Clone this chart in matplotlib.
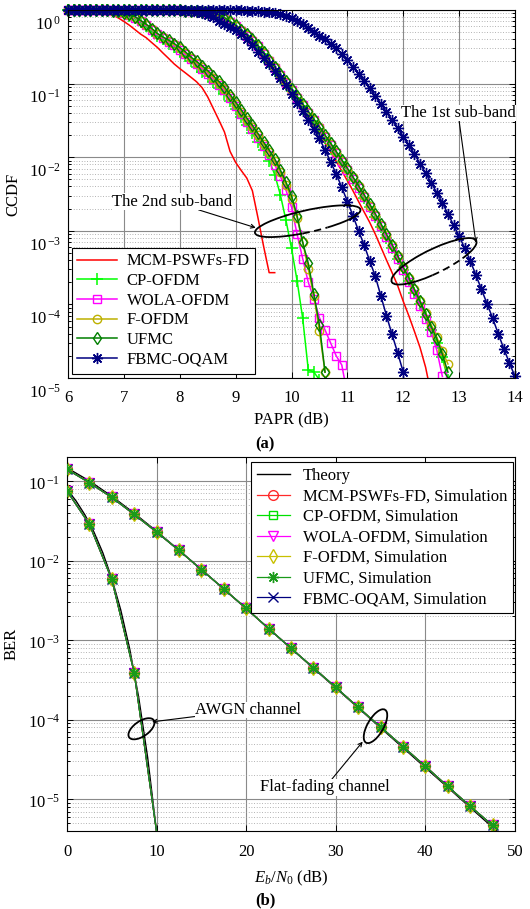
import numpy as np
import matplotlib
matplotlib.use('Agg')
import matplotlib.pyplot as plt
from matplotlib.patches import Arc
from matplotlib.ticker import FuncFormatter, LogLocator
from matplotlib.transforms import ScaledTranslation, Bbox, TransformedBbox

plt.rcParams['font.family'] = ['Liberation Serif', 'DejaVu Serif']
plt.rcParams['mathtext.fontset'] = 'custom'
plt.rcParams['mathtext.rm'] = 'Liberation Serif'
plt.rcParams['mathtext.it'] = 'Liberation Serif:italic'
plt.rcParams['axes.unicode_minus'] = False

# ---------------- (a) PAPR CCDF, sampled every 0.1 dB from 6 dB ----------------
papr_x = np.round(np.arange(6.0, 14.01, 0.1), 1)

# 2nd sub-band
mcm_2nd = [1.0, 0.999, 0.998, 0.996, 0.99, 0.98, 0.96, 0.92, 0.86, 0.78,
           0.7, 0.62, 0.54, 0.47, 0.42, 0.36, 0.31, 0.26, 0.22, 0.185,
           0.16, 0.14, 0.122, 0.106, 0.088, 0.066, 0.046, 0.032, 0.022, 0.012,
           0.0085, 0.0066, 0.0052, 0.0035, 0.0015, 6.2e-4, 2.7e-4, 2.7e-4]
cp_2nd = [1.0, 1.0, 1.0, 1.0, 0.999, 0.997, 0.993, 0.985, 0.97, 0.94,
          0.9, 0.84, 0.77, 0.68, 0.6, 0.52, 0.45, 0.4, 0.35, 0.31,
          0.27, 0.235, 0.2, 0.17, 0.145, 0.125, 0.105, 0.088, 0.073, 0.058,
          0.045, 0.035, 0.027, 0.021, 0.016, 0.0125, 0.009, 0.0058, 0.0031, 0.0014,
          5.8e-4, 2.1e-4, 6.5e-5, 1.3e-5, 1.2e-5, 9.5e-6]
wola_2nd = [1.0, 1.0, 1.0, 1.0, 0.999, 0.998, 0.994, 0.987, 0.973, 0.948,
            0.91, 0.86, 0.79, 0.7, 0.62, 0.54, 0.465, 0.415, 0.37, 0.33,
            0.29, 0.25, 0.215, 0.185, 0.16, 0.137, 0.116, 0.097, 0.081, 0.064,
            0.05, 0.039, 0.03, 0.024, 0.0185, 0.014, 0.0108, 0.0079, 0.0055, 0.0036,
            0.0021, 9e-4, 4.2e-4, 2e-4, 1.2e-4, 6.6e-5, 4.5e-5, 3e-5, 2e-5, 1.5e-5,
            6e-6]
fofdm_2nd = [1.0, 1.0, 1.0, 1.0, 0.999, 0.998, 0.995, 0.989, 0.975, 0.952,
             0.915, 0.865, 0.8, 0.715, 0.635, 0.55, 0.475, 0.425, 0.38, 0.34,
             0.3, 0.26, 0.222, 0.192, 0.168, 0.143, 0.121, 0.101, 0.085, 0.067,
             0.053, 0.041, 0.032, 0.0255, 0.0198, 0.015, 0.0117, 0.0088, 0.0062, 0.0042,
             0.0027, 0.0015, 7e-4, 3e-4, 1.3e-4, 4.3e-5, 1.2e-5]
ufmc_2nd = [1.0, 1.0, 1.0, 1.0, 0.999, 0.998, 0.995, 0.99, 0.977, 0.955,
            0.92, 0.87, 0.81, 0.72, 0.64, 0.56, 0.48, 0.43, 0.39, 0.35,
            0.31, 0.27, 0.23, 0.2, 0.175, 0.15, 0.128, 0.107, 0.09, 0.071,
            0.056, 0.044, 0.034, 0.027, 0.021, 0.016, 0.0125, 0.0095, 0.0067, 0.0046,
            0.003, 0.0016, 7e-4, 3.6e-4, 1.4e-4, 5.2e-5, 1.2e-5]
fbmc_2nd = [1.0] * 16 + [
            0.999, 0.998, 0.996, 0.993, 0.988, 0.98, 0.965, 0.94, 0.9, 0.86,
            0.8, 0.72, 0.65, 0.58, 0.53, 0.47, 0.4, 0.33, 0.27, 0.22,
            0.185, 0.15, 0.12, 0.095, 0.072, 0.055, 0.042, 0.032, 0.024, 0.018,
            0.0125, 0.0087, 0.0059, 0.0039, 0.0025, 0.0016, 0.001, 6.4e-4, 3.9e-4, 2.4e-4,
            1.3e-4, 7e-5, 3.9e-5, 2.2e-5, 1.2e-5]

# 1st sub-band
mcm_1st = [1.0] * 14 + [
           0.999, 0.998, 0.997, 0.995, 0.992, 0.988, 0.982, 0.974, 0.963, 0.948,
           0.93, 0.9, 0.855, 0.79, 0.7, 0.62, 0.54, 0.47, 0.4, 0.33,
           0.265, 0.21, 0.17, 0.135, 0.107, 0.085, 0.067, 0.053, 0.042, 0.033,
           0.026, 0.02, 0.0155, 0.0118, 0.0088, 0.0065, 0.0048, 0.0035, 0.0025, 0.0018,
           0.0013, 9e-4, 6e-4, 4e-4, 2.7e-4, 1.8e-4, 1.1e-4, 7e-5, 4.3e-5, 2.6e-5,
           1.4e-5, 6e-6]
cp_1st = [1.0] * 15 + [
          0.999, 0.998, 0.996, 0.994, 0.99, 0.985, 0.978, 0.968, 0.955, 0.935,
          0.91, 0.88, 0.83, 0.75, 0.67, 0.59, 0.51, 0.44, 0.375, 0.31,
          0.25, 0.198, 0.16, 0.127, 0.1, 0.08, 0.063, 0.05, 0.039, 0.031,
          0.024, 0.0185, 0.0143, 0.011, 0.0085, 0.0065, 0.0049, 0.0037, 0.0028, 0.0021,
          0.00155, 0.00112, 8e-4, 5.8e-4, 4.1e-4, 2.9e-4, 2.05e-4, 1.45e-4, 1e-4, 6.8e-5,
          4.5e-5, 3e-5, 1.9e-5, 9.5e-6]
wola_1st = [1.0] * 15 + [
            0.999, 0.998, 0.996, 0.994, 0.99, 0.986, 0.979, 0.97, 0.958, 0.94,
            0.915, 0.89, 0.84, 0.76, 0.68, 0.6, 0.52, 0.45, 0.385, 0.32,
            0.255, 0.203, 0.164, 0.13, 0.103, 0.082, 0.064, 0.051, 0.04, 0.032,
            0.025, 0.019, 0.0147, 0.0113, 0.0087, 0.0067, 0.0051, 0.0038, 0.0029, 0.0021,
            0.0016, 0.00115, 8.2e-4, 5.9e-4, 4.2e-4, 2.9e-4, 2e-4, 1.4e-4, 9.5e-5, 6.3e-5,
            4.2e-5, 2.4e-5, 1.05e-5]
fofdm_1st = [1.0] * 15 + [
             0.999, 0.998, 0.997, 0.995, 0.991, 0.987, 0.981, 0.973, 0.962, 0.946,
             0.925, 0.9, 0.85, 0.78, 0.69, 0.61, 0.53, 0.46, 0.39, 0.325,
             0.26, 0.206, 0.167, 0.132, 0.105, 0.083, 0.066, 0.052, 0.041, 0.032,
             0.0255, 0.0196, 0.0152, 0.0117, 0.009, 0.0069, 0.0053, 0.004, 0.003, 0.0022,
             0.00165, 0.0012, 8.8e-4, 6.4e-4, 4.5e-4, 3.2e-4, 2.3e-4, 1.6e-4, 1.12e-4, 7.7e-5,
             5.3e-5, 3.6e-5, 2.3e-5, 1.55e-5]
ufmc_1st = [1.0] * 15 + [
            0.999, 0.998, 0.997, 0.995, 0.992, 0.988, 0.982, 0.975, 0.965, 0.95,
            0.93, 0.91, 0.86, 0.79, 0.7, 0.62, 0.54, 0.47, 0.4, 0.33,
            0.265, 0.21, 0.17, 0.135, 0.107, 0.085, 0.067, 0.053, 0.042, 0.033,
            0.026, 0.02, 0.0155, 0.012, 0.0092, 0.0071, 0.0054, 0.0041, 0.0031, 0.0023,
            0.0017, 0.00125, 9e-4, 6.5e-4, 4.6e-4, 3.2e-4, 2.3e-4, 1.6e-4, 1.1e-4, 7.5e-5,
            5e-5, 3.4e-5, 2.1e-5, 1.2e-5]
fbmc_1st = [1.0] * 25 + [
            0.999, 0.998, 0.997, 0.995, 0.993, 0.99, 0.986, 0.98, 0.972, 0.96,
            0.945, 0.925, 0.9, 0.87, 0.83, 0.78, 0.72, 0.65, 0.57, 0.5,
            0.45, 0.4, 0.35, 0.3, 0.25, 0.21, 0.17, 0.135, 0.11, 0.087,
            0.068, 0.053, 0.041, 0.032, 0.025, 0.019, 0.0145, 0.011, 0.0082, 0.0061,
            0.0045, 0.0033, 0.0024, 0.0017, 0.0012, 8.5e-4, 5.8e-4, 3.9e-4, 2.5e-4, 1.6e-4,
            1.02e-4, 6.5e-5, 4e-5, 2.5e-5, 1.6e-5, 1.05e-5]

# ---------------- (b) BER ----------------
ebn0_awgn_theory = [0, 1, 2, 3, 4, 5, 6, 7, 8, 9, 10]
ber_awgn_theory = [0.0786, 0.0563, 0.0375, 0.0229, 0.0125, 0.00595, 0.00239,
                   7.73e-4, 1.91e-4, 3.36e-5, 3.87e-6]
ebn0_fade_theory = [0, 2.5, 5, 7.5, 10, 12.5, 15, 17.5, 20, 22.5, 25, 27.5, 30,
                    32.5, 35, 37.5, 40, 42.5, 45, 47.5, 50]
ber_fade_theory = [0.146, 0.1, 0.0642, 0.0393, 0.0233, 0.0135, 0.00772, 0.00438,
                   0.00248, 0.0014, 7.89e-4, 4.44e-4, 2.5e-4, 1.41e-4, 7.9e-5,
                   4.45e-5, 2.5e-5, 1.41e-5, 7.9e-6, 4.45e-6, 2.5e-6]
ebn0_awgn_sim = [0, 2.5, 5, 7.5, 10]
ber_awgn_sim = [0.075, 0.0285, 0.0058, 3.9e-4, 3.9e-6]
ebn0_fade_sim = [0, 2.5, 5, 7.5, 10, 12.5, 15, 17.5, 20, 22.5, 25, 27.5, 30,
                 32.5, 35, 37.5, 40, 42.5, 45, 47.5]
ber_fade_sim = [0.14, 0.095, 0.062, 0.038, 0.0228, 0.0134, 0.0077, 0.0044, 0.0025,
                0.0014, 7.9e-4, 4.5e-4, 2.55e-4, 1.43e-4, 8.1e-5, 4.6e-5, 2.6e-5,
                1.45e-5, 8.2e-6, 4.7e-6]

schemes = ['MCM-PSWFs-FD', 'CP-OFDM', 'WOLA-OFDM', 'F-OFDM', 'UFMC', 'FBMC-OQAM']

fig = plt.figure(figsize=(5.3, 9.09), dpi=100)
W, H = 530, 909
ax1 = fig.add_axes([68 / W, 1 - 378 / H, (515 - 68) / W, (378 - 10) / H])
ax2 = fig.add_axes([67 / W, 1 - 831 / H, (515 - 67) / W, (831 - 457) / H])

ASTER = (8, 2, 0)  # MATLAB-like '*' (plus and cross together)

# top panel styles
top_style = [
    dict(color='#ff0000', marker=None),
    dict(color='#00ff00', marker='+', ms=8, mew=1.1),
    dict(color='#ff00ff', marker='s', ms=5.5, mfc='none', mew=1.0),
    dict(color='#bdb000', marker='o', ms=6, mfc='none', mew=1.0),
    dict(color='#007f00', marker='d', ms=6.5, mfc='none', mew=1.0),
    dict(color='#000080', marker=ASTER, ms=8, mew=1.0),
]
curves_2nd = [mcm_2nd, cp_2nd, wola_2nd, fofdm_2nd, ufmc_2nd, fbmc_2nd]
curves_1st = [mcm_1st, cp_1st, wola_1st, fofdm_1st, ufmc_1st, fbmc_1st]

# markers sitting on the top edge are drawn whole, as in the original
top_clip = TransformedBbox(Bbox([[-0.02, 0.0], [1.02, 1.04]]), ax1.transAxes)
for name, st, c2, c1 in zip(schemes, top_style, curves_2nd, curves_1st):
    l2, = ax1.semilogy(papr_x[:len(c2)], c2, lw=1.1, label=name, **st)
    l1, = ax1.semilogy(papr_x[:len(c1)], c1, lw=1.1, **st)
    for ln in (l1, l2):
        ln.set_clip_box(top_clip)

ax1.set_xlim(6, 14)
ax1.set_ylim(1e-5, 1)
ax1.set_xticks(range(6, 15))

# bottom panel
bot_style = [
    dict(color='#ff2a2a', marker='o', ms=7, mfc='none', mew=1.0),
    dict(color='#00e000', marker='s', ms=6, mfc='none', mew=1.0),
    dict(color='#ff00ff', marker='v', ms=7, mfc='none', mew=1.0),
    dict(color='#c8c000', marker='d', ms=7, mfc='none', mew=1.0),
    dict(color='#1a9a1a', marker=ASTER, ms=8, mew=1.0),
    dict(color='#00007f', marker='x', ms=6.5, mew=1.0),
]
ax2.semilogy(ebn0_awgn_theory, ber_awgn_theory, color='k', lw=1.0, label='Theory')
ax2.semilogy(ebn0_fade_theory, ber_fade_theory, color='k', lw=1.0)
for name, st in zip(schemes, bot_style):
    z = 3 if name == 'UFMC' else 2
    ax2.semilogy(ebn0_fade_sim, ber_fade_sim, lw=0.9, label=name + ', Simulation',
                 zorder=z, **st)
    ax2.semilogy(ebn0_awgn_sim, ber_awgn_sim, lw=0.9, markevery=slice(0, 4),
                 zorder=z, **st)

ax2.set_xlim(0, 50)
ax2.set_ylim(4e-6, 0.2)
ax2.set_xticks(range(0, 51, 10))


def sci(v, pos):
    e = int(round(np.log10(v)))
    return r'$\mathdefault{10}^{\,\mathdefault{%d}}$' % e


for ax, drop in ((ax1, 9), (ax2, 1)):
    ax.yaxis.set_major_locator(LogLocator(base=10, numticks=10))
    ax.yaxis.set_major_formatter(FuncFormatter(sci))
    ax.tick_params(which='both', direction='in', top=True, right=True,
                   labelsize=12, width=0.7)
    ax.tick_params(which='major', length=4)
    ax.tick_params(which='minor', length=2.5)
    ax.tick_params(axis='x', pad=9)
    ax.tick_params(axis='y', pad=5)
    ax.grid(which='major', color='#8a8a8a', lw=0.8, ls='-')
    ax.grid(which='minor', axis='y', color='#9a9a9a', lw=0.6, ls=(0, (1, 2.2)))
    ax.set_axisbelow(True)
    for s in ax.spines.values():
        s.set_linewidth(0.8)
    for lab in ax.get_yticklabels():
        lab.set_transform(lab.get_transform() +
                          ScaledTranslation(0, -drop / 72, fig.dpi_scale_trans))

ax1.set_xlabel('PAPR (dB)', fontsize=12)
ax1.set_ylabel('CCDF', fontsize=12)
ax1.xaxis.set_label_coords(0.5, -0.09)
ax1.yaxis.set_label_coords(-0.105, 0.5)
ax2.set_xlabel(r'$E_b/N_0$ (dB)', fontsize=12)
ax2.set_ylabel('BER', fontsize=12)
ax2.xaxis.set_label_coords(0.5, -0.1)
ax2.yaxis.set_label_coords(-0.105, 0.5)

leg1 = ax1.legend(loc='lower left', bbox_to_anchor=(0.008, 0.012), borderaxespad=0,
                  fontsize=12, fancybox=False, edgecolor='k', framealpha=1,
                  handlelength=2.4, handletextpad=0.55, labelspacing=0.22,
                  borderpad=0.35)
leg1.get_frame().set_linewidth(0.8)
leg2 = ax2.legend(loc='upper right', bbox_to_anchor=(0.995, 0.986), borderaxespad=0,
                  fontsize=12, fancybox=False, edgecolor='k', framealpha=1,
                  handlelength=2.0, handletextpad=0.75, labelspacing=0.27,
                  borderpad=0.35)
leg2.get_frame().set_linewidth(0.8)


def ring(ax, x, y, w, h, ang, dashed=None):
    # ellipse of w x h pixels centred on a data point
    tr = fig.dpi_scale_trans + ScaledTranslation(x, y, ax.transData)
    kw = dict(angle=ang, color='k', lw=1.3, transform=tr, zorder=6)
    if dashed is None:
        ax.add_patch(Arc((0, 0), w / 100, h / 100, theta1=0, theta2=360, **kw))
    else:
        ax.add_patch(Arc((0, 0), w / 100, h / 100, theta1=dashed[1],
                         theta2=dashed[0] + 360, **kw))
        ax.add_patch(Arc((0, 0), w / 100, h / 100, theta1=dashed[0],
                         theta2=dashed[1], ls=(0, (4, 2.5)), **kw))


ring(ax1, 10.29, 1.35e-3, 108, 22, 12.5, dashed=(235, 330))
ring(ax1, 12.55, 3.85e-4, 94, 24, 26, dashed=(238, 340))
arrow = dict(arrowstyle='->', color='k', lw=0.8, shrinkA=0, shrinkB=0,
             mutation_scale=7)
box = dict(fc='white', ec='none', pad=0.3)
ax1.annotate('The 2nd sub-band', xy=(9.36, 1.1e-3), xytext=(7.86, 2.5e-3),
             ha='center', va='center', fontsize=12, arrowprops=arrow, bbox=box,
             zorder=7)
ax1.annotate('The 1st sub-band', xy=(13.3, 6.9e-4), xytext=(12.98, 0.04),
             ha='center', va='center', fontsize=12, arrowprops=arrow, bbox=box,
             zorder=7)

ring(ax2, 8.31, 7.7e-5, 30, 15, 35)
ring(ax2, 34.43, 8.3e-5, 38, 16, 60)
ax2.annotate('AWGN channel', xy=(9.49, 9.4e-5), xytext=(20.2, 1.33e-4),
             ha='center', va='center', fontsize=12, arrowprops=arrow, bbox=box,
             zorder=7)
ax2.annotate('Flat-fading channel', xy=(33.0, 5.3e-5), xytext=(28.8, 1.41e-5),
             ha='center', va='center', fontsize=12, arrowprops=arrow, bbox=box,
             zorder=7)

fig.text(0.5, 1 - 444 / H, '(a)', ha='center', va='center', fontsize=12,
         weight='bold')
fig.text(0.5, 1 - 900 / H, '(b)', ha='center', va='center', fontsize=12,
         weight='bold')

fig.savefig('out.png', dpi=100)
